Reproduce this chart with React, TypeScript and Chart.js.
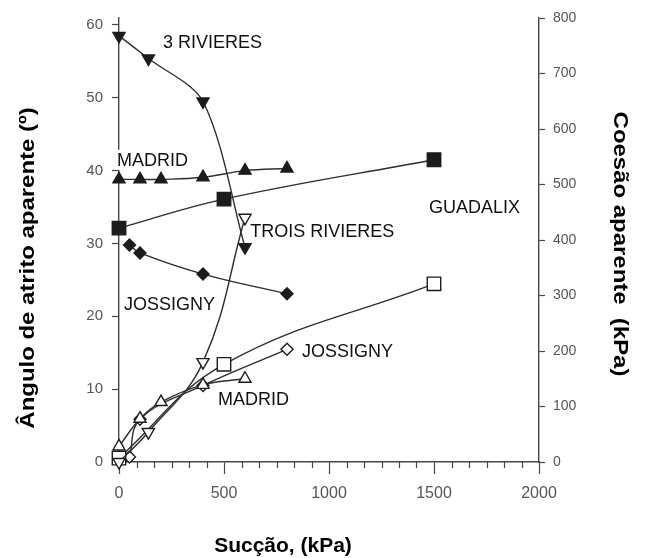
import { useEffect, useRef } from 'react';
import { Chart, registerables } from 'chart.js';

Chart.register(...registerables);

const FONT = '"Liberation Sans", Arial, Helvetica, sans-serif';

// Suction values (kPa) at which each soil was tested
const suctionTrois = [0, 140, 400, 600];
const suctionMadridPhi = [0, 100, 200, 400, 600, 800];
const suctionMadridC = [0, 100, 200, 400, 600];
const suctionGuadalix = [0, 500, 1500];
const suctionJossigny = [50, 100, 400, 800];

// Apparent friction angle (degrees) – left axis, filled markers
const phiTrois = [58.5, 55.4, 49.5, 29.5];
const phiMadrid = [38.8, 38.8, 38.8, 39.1, 40.0, 40.3];
const phiGuadalix = [32.1, 36.1, 41.5];
const phiJossigny = [29.8, 28.7, 25.8, 23.1];

// Apparent cohesion (kPa) – right axis, open markers
const cTrois = [0, 54, 180, 440];
const cMadrid = [28, 78, 108, 139, 150];
const cGuadalix = [7, 176, 321];
const cJossigny = [9, 77, 138, 203];

// Axis tick values
const xTicks = [0, 500, 1000, 1500, 2000];
const xMinorPerMajor = 6;
const phiTicks = [0, 10, 20, 30, 40, 50, 60];
const cTicks = [0, 100, 200, 300, 400, 500, 600, 700, 800];

// Curve labels, anchored in (suction, friction angle) units at the text's left edge
const curveLabels = [
  { text: '3 RIVIERES', x: 209, y: 57.7 },
  { text: 'MADRID', x: -10, y: 41.5 },
  { text: 'TROIS RIVIERES', x: 625, y: 31.7 },
  { text: 'GUADALIX', x: 1476, y: 35.0 },
  { text: 'JOSSIGNY', x: 24, y: 21.7 },
  { text: 'JOSSIGNY', x: 871, y: 15.3 },
  { text: 'MADRID', x: 471, y: 8.7 },
];

const INK = '#1c1c1c';
const LINE = '#2e2e2e';
const AXIS = '#474747';
const TICK_TEXT = '#555555';

const toPoints = (xs: number[], ys: number[]) => xs.map((x, i) => ({ x, y: ys[i] }));

function series(
  data: { x: number; y: number }[],
  yAxisID: string,
  pointStyle: string,
  filled: boolean,
  radius: number,
  rotation = 0,
  tension = 0.4,
) {
  return {
    data,
    yAxisID,
    pointStyle,
    rotation,
    pointRadius: radius,
    pointHoverRadius: radius,
    pointBackgroundColor: filled ? INK : '#ffffff',
    pointBorderColor: INK,
    pointBorderWidth: 1.4,
    borderColor: LINE,
    borderWidth: 1.4,
    tension,
    fill: false,
    clip: false,
  };
}

const decorations = {
  id: 'decorations',
  afterDatasetsDraw(chart: any) {
    const { ctx, scales } = chart;
    const xs = scales.x;
    const ys = scales.phi;
    ctx.save();
    ctx.font = `18px ${FONT}`;
    ctx.textBaseline = 'middle';
    for (const l of curveLabels) {
      const px = xs.getPixelForValue(l.x);
      const py = ys.getPixelForValue(l.y);
      const w = ctx.measureText(l.text).width;
      ctx.fillStyle = '#ffffff';
      ctx.fillRect(px - 1, py - 10, w + 2, 20);
      ctx.fillStyle = '#111111';
      ctx.fillText(l.text, px, py + 1);
    }
    ctx.restore();
  },
  afterDraw(chart: any) {
    const { ctx, scales } = chart;
    const xs = scales.x;
    ctx.save();
    // minor ticks on the suction axis
    ctx.strokeStyle = AXIS;
    ctx.lineWidth = 1.2;
    const step = (xTicks[1] - xTicks[0]) / xMinorPerMajor;
    const count = (xTicks.length - 1) * xMinorPerMajor;
    ctx.beginPath();
    for (let k = 1; k < count; k++) {
      if (k % xMinorPerMajor === 0) continue;
      const px = Math.round(xs.getPixelForValue(k * step)) + 0.5;
      ctx.moveTo(px, xs.top);
      ctx.lineTo(px, xs.top + 6);
    }
    ctx.stroke();

    // axis titles
    ctx.fillStyle = '#000000';
    ctx.font = `bold 21px ${FONT}`;
    ctx.textAlign = 'center';
    ctx.textBaseline = 'middle';
    ctx.fillText('Sucção, (kPa)', 283, 546);

    ctx.save();
    ctx.translate(28, 268);
    ctx.rotate(-Math.PI / 2);
    ctx.scale(1.14, 1);
    ctx.fillText('Ângulo de atrito aparente (º)', 0, 0);
    ctx.restore();

    ctx.save();
    ctx.translate(620, 244);
    ctx.rotate(Math.PI / 2);
    ctx.scale(1.14, 1);
    ctx.fillText('Coesão aparente  (kPa)', 0, 0);
    ctx.restore();

    ctx.restore();
  },
};

export default function App() {
  const canvasRef = useRef<HTMLCanvasElement | null>(null);

  useEffect(() => {
    const canvas = canvasRef.current;
    if (!canvas) return;

    const chart = new Chart(canvas, {
      type: 'line',
      data: {
        datasets: [
          series(toPoints(suctionTrois, phiTrois), 'phi', 'triangle', true, 7, 180, 0.3),
          series(toPoints(suctionMadridPhi, phiMadrid), 'phi', 'triangle', true, 7),
          series(toPoints(suctionGuadalix, phiGuadalix), 'phi', 'rect', true, 9.5),
          series(toPoints(suctionJossigny, phiJossigny), 'phi', 'rectRot', true, 6),
          series(toPoints(suctionTrois, cTrois), 'coh', 'triangle', false, 7, 180),
          series(toPoints(suctionMadridC, cMadrid), 'coh', 'triangle', false, 7),
          series(toPoints(suctionGuadalix, cGuadalix), 'coh', 'rect', false, 9.5),
          series(toPoints(suctionJossigny, cJossigny), 'coh', 'rectRot', false, 6),
        ] as any,
      },
      options: {
        responsive: false,
        animation: false,
        events: [],
        layout: { padding: { top: 16, left: 0, right: 0, bottom: 0 } },
        plugins: {
          legend: { display: false },
          tooltip: { enabled: false },
          title: { display: false },
        },
        scales: {
          x: {
            type: 'linear',
            position: 'bottom',
            min: 0,
            max: 2000,
            afterBuildTicks: (scale: any) => {
              scale.ticks = xTicks.map((value) => ({ value }));
            },
            afterFit: (scale: any) => {
              scale.height = 96;
            },
            ticks: {
              color: TICK_TEXT,
              font: { family: FONT, size: 16 },
              padding: 10,
              maxRotation: 0,
              autoSkip: false,
              callback: (value: number) => String(value),
            },
            grid: {
              drawOnChartArea: false,
              drawTicks: true,
              tickLength: 12,
              tickColor: AXIS,
              tickWidth: 1.2,
            },
            border: { color: AXIS, width: 1.4 },
          },
          phi: {
            type: 'linear',
            position: 'left',
            min: 0,
            max: 60.96,
            afterBuildTicks: (scale: any) => {
              scale.ticks = phiTicks.map((value) => ({ value }));
            },
            afterFit: (scale: any) => {
              scale.width = 119;
            },
            ticks: {
              color: TICK_TEXT,
              font: { family: FONT, size: 15 },
              padding: 9,
              autoSkip: false,
              callback: (value: number) => String(value),
            },
            grid: {
              drawOnChartArea: false,
              drawTicks: true,
              tickLength: 7,
              tickColor: AXIS,
              tickWidth: 1.2,
            },
            border: { color: AXIS, width: 1.4 },
          },
          coh: {
            type: 'linear',
            position: 'right',
            min: 0,
            max: 800,
            afterBuildTicks: (scale: any) => {
              scale.ticks = cTicks.map((value) => ({ value }));
            },
            afterFit: (scale: any) => {
              scale.width = 107;
            },
            ticks: {
              color: TICK_TEXT,
              font: { family: FONT, size: 14 },
              padding: 8,
              autoSkip: false,
              callback: (value: number) => String(value),
            },
            grid: {
              drawOnChartArea: false,
              drawTicks: true,
              tickLength: 6,
              tickColor: AXIS,
              tickWidth: 1.2,
            },
            border: { color: AXIS, width: 1.4 },
          },
        },
      } as any,
      plugins: [decorations],
    });

    return () => chart.destroy();
  }, []);

  return (
    <div style={{ position: 'absolute', left: 0, top: 0, width: 646, height: 558, background: '#ffffff' }}>
      <canvas ref={canvasRef} width={646} height={558} style={{ display: 'block' }} />
    </div>
  );
}
